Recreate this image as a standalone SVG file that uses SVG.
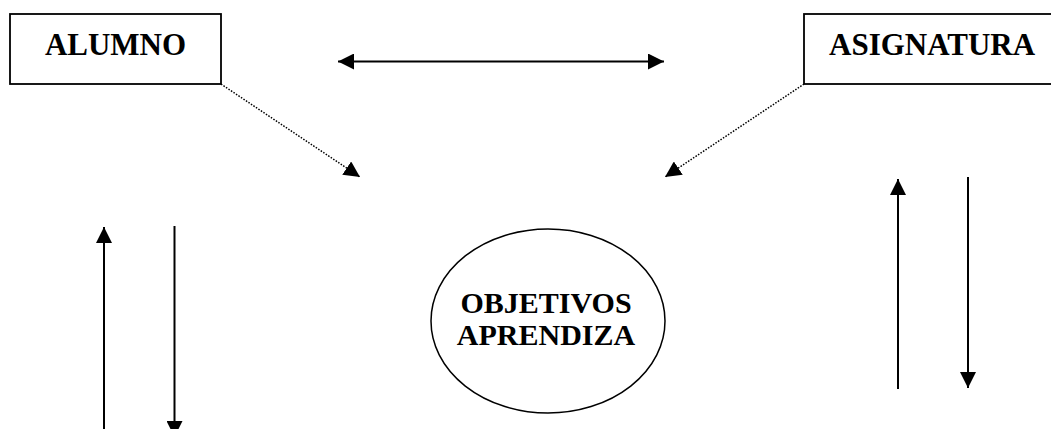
<svg xmlns="http://www.w3.org/2000/svg" width="1051" height="429" viewBox="0 0 1051 429">
  <style>
    .box { fill: #ffffff; stroke: #000000; stroke-width: 1.8; }
    .lbl { font-family: "Liberation Serif", "Times New Roman", serif; font-weight: bold; font-size: 31px; fill: #000000; }
    .lbl2 { font-family: "Liberation Serif", "Times New Roman", serif; font-weight: bold; font-size: 30px; fill: #000000; }
    .solid { stroke: #000000; stroke-width: 2; fill: none; }
    .dotted { stroke: #000000; stroke-width: 1.5; fill: none; stroke-dasharray: 1.5 1.5; }
  </style>
  <defs>
    <marker id="ah" markerUnits="userSpaceOnUse" markerWidth="16" markerHeight="16" viewBox="0 0 15 15" refX="15" refY="7.5" orient="auto-start-reverse">
      <path d="M0,0 L15,7.5 L0,15 Z" fill="#000000"/>
    </marker>
  </defs>
  <rect width="1051" height="429" fill="#ffffff"/>
  <g id="connectors">
    <line class="solid" x1="338" y1="61.5" x2="664" y2="61.5" marker-start="url(#ah)" marker-end="url(#ah)"/>
    <line class="dotted" x1="221" y1="84" x2="360" y2="177" marker-end="url(#ah)"/>
    <line class="dotted" x1="804" y1="84" x2="665" y2="177" marker-end="url(#ah)"/>
    <line class="solid" x1="104" y1="432" x2="104" y2="227" marker-end="url(#ah)"/>
    <line class="solid" x1="174.5" y1="226" x2="174.5" y2="437" marker-end="url(#ah)"/>
    <line class="solid" x1="898" y1="389" x2="898" y2="179" marker-end="url(#ah)"/>
    <line class="solid" x1="968" y1="177" x2="968" y2="388" marker-end="url(#ah)"/>
  </g>
  <g id="alumno">
    <rect class="box" x="10" y="14" width="211" height="70"/>
    <text class="lbl" x="115.5" y="55" text-anchor="middle">ALUMNO</text>
  </g>
  <g id="asignatura">
    <rect class="box" x="804" y="14" width="270" height="70"/>
    <text class="lbl" x="829" y="55">ASIGNATURA</text>
  </g>
  <g id="objetivos">
    <ellipse cx="548" cy="321" rx="117" ry="92" fill="#ffffff" stroke="#000000" stroke-width="1.5"/>
    <text class="lbl2" x="546" y="313" text-anchor="middle">OBJETIVOS</text>
    <text class="lbl2" x="546" y="345" text-anchor="middle">APRENDIZA</text>
  </g>
</svg>
